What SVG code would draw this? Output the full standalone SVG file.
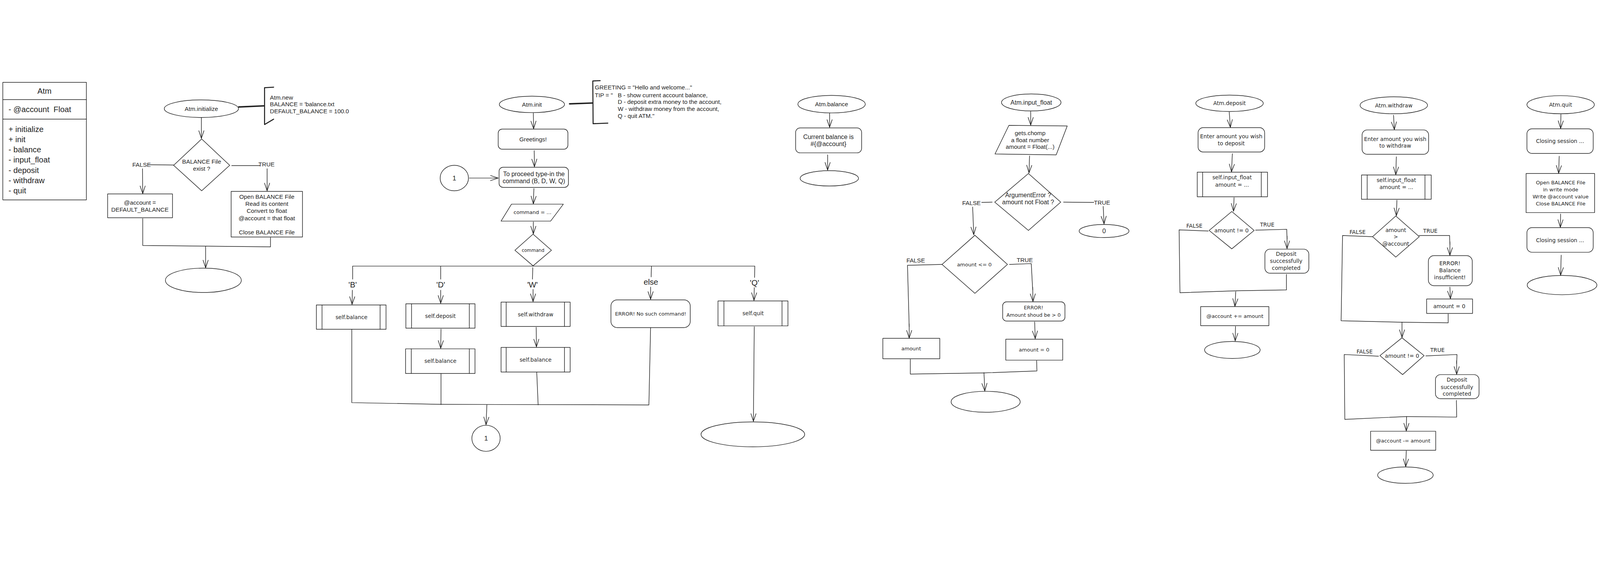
<svg xmlns="http://www.w3.org/2000/svg" width="5649" height="1444" viewBox="0 0 5649 1444">
<defs>
<marker id="ah" viewBox="-30 -12 32 24" refX="0" refY="0" markerWidth="32" markerHeight="24" markerUnits="userSpaceOnUse" orient="auto">
<path d="M-27,-9 L0,0 L-27,9" fill="none" stroke="#1e1e1e" stroke-width="2" stroke-linecap="round" stroke-linejoin="round"/>
</marker>
</defs>
<style>
svg{width:100vw;height:100vh}
.ln{fill:none;stroke:#1e1e1e;stroke-width:2;stroke-linecap:round;stroke-linejoin:round}
.ar{fill:none;stroke:#1e1e1e;stroke-width:2;stroke-linecap:round;marker-end:url(#ah)}
.thick{fill:none;stroke:#1e1e1e;stroke-width:5;stroke-linecap:round;stroke-linejoin:round}
.br{fill:none;stroke:#1e1e1e;stroke-width:3.5;stroke-linecap:round;stroke-linejoin:round}
.nd{fill:none;stroke:#1e1e1e;stroke-width:2;stroke-linejoin:round}
.v{font-family:"Liberation Sans",Arial,sans-serif;font-size:21px;fill:#1e1e1e;text-anchor:middle;dominant-baseline:central}
.d{font-family:"DejaVu Sans",Verdana,sans-serif;font-size:19px;fill:#1e1e1e;text-anchor:middle;dominant-baseline:central}
.l{text-anchor:start}
.big{font-size:28px}
</style>
<rect width="5649" height="1444" fill="#ffffff"/>

<!-- ===== Atm class ===== -->
<g id="atm-class">
<rect class="nd" x="10" y="17" width="295" height="415"/>
<line class="ln" x1="10" y1="78" x2="305" y2="78"/>
<line class="ln" x1="10" y1="147" x2="305" y2="147"/>
<text class="v big" x="157" y="48">Atm</text>
<text class="v big l" x="30" y="113" style="white-space:pre">- @account  Float</text>
<text class="v big l" x="30" y="183">+ initialize</text>
<text class="v big l" x="30" y="219">+ init</text>
<text class="v big l" x="30" y="255">- balance</text>
<text class="v big l" x="30" y="291">- input_float</text>
<text class="v big l" x="30" y="327">- deposit</text>
<text class="v big l" x="30" y="363">- withdraw</text>
<text class="v big l" x="30" y="399">- quit</text>
</g>

<!-- ===== Atm.initialize ===== -->
<g id="init-start"><ellipse class="nd" cx="711" cy="110" rx="131" ry="31"/><text class="v" x="711" y="110">Atm.initialize</text></g>
<g id="init-note">
<path class="br" d="M966,34 L934,36 L934,166 L966,147"/>
<text class="v l" x="953" y="70">Atm.new</text>
<text class="v l" x="953" y="94">BALANCE = 'balance.txt</text>
<text class="v l" x="953" y="118">DEFAULT_BALANCE = 100.0</text>
</g>
<g id="init-cond"><polygon class="nd" points="712,217 811,310 712,400 613,310"/><text class="v" x="712" y="297">BALANCE File</text><text class="v" x="712" y="322">exist ?</text></g>
<g id="init-default"><rect class="nd" x="380" y="411" width="229" height="84"/><text class="v" x="494" y="442">@account =</text><text class="v" x="494" y="466">DEFAULT_BALANCE</text></g>
<g id="init-read"><rect class="nd" x="816" y="402" width="252" height="161"/>
<text class="v" x="942" y="421">Open BALANCE File</text><text class="v" x="942" y="446">Read its content</text><text class="v" x="942" y="471">Convert to float</text><text class="v" x="942" y="496">@account = that float</text><text class="v" x="942" y="546">Close BALANCE File</text></g>
<g id="init-end"><ellipse class="nd" cx="718" cy="716" rx="134" ry="43"/></g>

<!-- ===== Atm.init ===== -->
<g id="run-start"><ellipse class="nd" cx="1878" cy="95" rx="115" ry="29"/><text class="v" x="1878" y="95">Atm.init</text></g>
<g id="run-note">
<path class="br" d="M2119,11 L2093,12 L2094,163 L2146,161"/>
<text class="v l" x="2100" y="35">GREETING = "Hello and welcome..."</text>
<text class="v l" x="2100" y="62">TIP = "<tspan x="2181">B - show current account balance,</tspan></text>
<text class="v l" x="2181" y="86">D - deposit extra money to the account,</text>
<text class="v l" x="2181" y="110">W - withdraw money from the account,</text>
<text class="v l" x="2181" y="135">Q - quit ATM."</text>
</g>
<g id="run-greet"><rect class="nd" x="1759" y="182" width="246" height="71" rx="14"/><text class="v" x="1882" y="218">Greetings!</text></g>
<g id="run-prompt"><rect class="nd" x="1762" y="317" width="245" height="71" rx="14"/><text class="v" x="1885" y="340" style="font-size:22px">To proceed type-in the</text><text class="v" x="1885" y="365" style="font-size:22px">command (B, D, W, Q)</text></g>
<g id="run-conn-in"><ellipse class="nd" cx="1604" cy="355" rx="50" ry="45"/><text class="v" x="1604" y="355" style="font-size:24px">1</text></g>
<g id="run-input"><polygon class="nd" points="1806,447 1989,447 1944,507 1769,507"/><text class="d" x="1880" y="476" style="font-size:18px">command = ...</text></g>
<g id="run-switch"><polygon class="nd" points="1882,553 1947,610 1882,665 1818,610"/><text class="d" x="1882" y="610" style="font-size:16px">command</text></g>
<g id="run-b"><rect class="nd" x="1117" y="803" width="246" height="86"/><line class="ln" x1="1137" y1="803" x2="1137" y2="889"/><line class="ln" x1="1342" y1="803" x2="1342" y2="889"/><text class="d" x="1241" y="846">self.balance</text></g>
<g id="run-d1"><rect class="nd" x="1433" y="799" width="244" height="86"/><line class="ln" x1="1453" y1="799" x2="1453" y2="885"/><line class="ln" x1="1657" y1="799" x2="1657" y2="885"/><text class="d" x="1555" y="842">self.deposit</text></g>
<g id="run-d2"><rect class="nd" x="1432" y="958" width="245" height="87"/><line class="ln" x1="1452" y1="958" x2="1452" y2="1045"/><line class="ln" x1="1657" y1="958" x2="1657" y2="1045"/><text class="d" x="1555" y="1001">self.balance</text></g>
<g id="run-w1"><rect class="nd" x="1769" y="793" width="244" height="86"/><line class="ln" x1="1787" y1="793" x2="1787" y2="879"/><line class="ln" x1="1993" y1="793" x2="1993" y2="879"/><text class="d" x="1891" y="836">self.withdraw</text></g>
<g id="run-w2"><rect class="nd" x="1769" y="953" width="244" height="87"/><line class="ln" x1="1787" y1="953" x2="1787" y2="1040"/><line class="ln" x1="1993" y1="953" x2="1993" y2="1040"/><text class="d" x="1891" y="997">self.balance</text></g>
<g id="run-err"><rect class="nd" x="2157" y="785" width="280" height="98" rx="22"/><text class="d" x="2297" y="834" style="font-size:18px">ERROR! No such command!</text></g>
<g id="run-q"><rect class="nd" x="2535" y="789" width="247" height="88"/><line class="ln" x1="2556" y1="789" x2="2556" y2="877"/><line class="ln" x1="2761" y1="789" x2="2761" y2="877"/><text class="d" x="2659" y="833">self.quit</text></g>
<g id="run-conn-out"><ellipse class="nd" cx="1716" cy="1274" rx="50" ry="46"/><text class="v" x="1716" y="1274" style="font-size:24px">1</text></g>
<g id="run-end"><ellipse class="nd" cx="2658" cy="1260" rx="183" ry="44"/></g>

<!-- ===== Atm.balance ===== -->
<g id="bal-start"><ellipse class="nd" cx="2936" cy="94" rx="119" ry="31"/><text class="v" x="2936" y="94">Atm.balance</text></g>
<g id="bal-show"><rect class="nd" x="2809" y="178" width="233" height="88" rx="16"/><text class="v" x="2925" y="210" style="font-size:22px">Current balance is</text><text class="v" x="2925" y="235" style="font-size:22px">#{@account}</text></g>
<g id="bal-end"><ellipse class="nd" cx="2928" cy="356" rx="103" ry="27"/></g>

<!-- ===== Atm.input_float ===== -->
<g id="if-start"><ellipse class="nd" cx="3641" cy="88" rx="105" ry="30"/><text class="v" x="3641" y="88" style="font-size:22px">Atm.input_float</text></g>
<g id="if-read"><polygon class="nd" points="3562,169 3768,171 3729,273 3513,270"/><text class="v" x="3637" y="196">gets.chomp</text><text class="v" x="3637" y="220">a float number</text><text class="v" x="3637" y="244">amount = Float(...)</text></g>
<g id="if-cond1"><polygon class="nd" points="3631,339 3745,440 3631,540 3512,440"/><text class="v" x="3630" y="415" style="font-size:22px">ArgumentError ?</text><text class="v" x="3630" y="440" style="font-size:22px">amount not Float ?</text></g>
<g id="if-zero"><ellipse class="nd" cx="3898" cy="542" rx="88" ry="23"/><text class="v" x="3898" y="542" style="font-size:22px">0</text></g>
<g id="if-cond2"><polygon class="nd" points="3442,557 3557,660 3442,762 3326,660"/><text class="d" x="3440" y="660" style="font-size:18px">amount &lt;= 0</text></g>
<g id="if-amount"><rect class="nd" x="3117" y="921" width="201" height="72"/><text class="d" x="3217" y="957" style="font-size:18px">amount</text></g>
<g id="if-err"><rect class="nd" x="3540" y="792" width="220" height="68" rx="14"/><text class="d" x="3649" y="813" style="font-size:17.5px">ERROR!</text><text class="d" x="3649" y="839" style="font-size:17.5px">Amount shoud be &gt; 0</text></g>
<g id="if-reset"><rect class="nd" x="3551" y="924" width="201" height="74"/><text class="d" x="3651" y="961" style="font-size:18px">amount = 0</text></g>
<g id="if-end"><ellipse class="nd" cx="3480" cy="1145" rx="122" ry="37"/></g>

<!-- ===== Atm.deposit ===== -->
<g id="dep-start"><ellipse class="nd" cx="4341" cy="91" rx="119" ry="29"/><text class="d" x="4341" y="91">Atm.deposit</text></g>
<g id="dep-prompt"><rect class="nd" x="4230" y="177" width="235" height="86" rx="18"/><text class="d" x="4347" y="207">Enter amount you wish</text><text class="d" x="4347" y="232">to deposit</text></g>
<g id="dep-input"><rect class="nd" x="4227" y="334" width="248" height="87"/><line class="ln" x1="4246" y1="334" x2="4246" y2="421"/><line class="ln" x1="4453" y1="334" x2="4453" y2="421"/><text class="d" x="4350" y="353">self.input_float</text><text class="d" x="4350" y="378">amount = ...</text></g>
<g id="dep-cond"><polygon class="nd" points="4349,473 4428,540 4349,605 4269,540"/><text class="d" x="4348" y="540">amount != 0</text></g>
<g id="dep-ok"><rect class="nd" x="4466" y="606" width="155" height="85" rx="18"/><text class="d" x="4541" y="623">Deposit</text><text class="d" x="4541" y="648">successfully</text><text class="d" x="4541" y="672">completed</text></g>
<g id="dep-add"><rect class="nd" x="4239" y="809" width="241" height="67"/><text class="d" x="4360" y="842" style="font-size:18px">@account += amount</text></g>
<g id="dep-end"><ellipse class="nd" cx="4351" cy="962" rx="98" ry="30"/></g>

<!-- ===== Atm.withdraw ===== -->
<g id="wd-start"><ellipse class="nd" cx="4921" cy="98" rx="119" ry="30"/><text class="d" x="4921" y="98">Atm.withdraw</text></g>
<g id="wd-prompt"><rect class="nd" x="4809" y="185" width="235" height="86" rx="18"/><text class="d" x="4926" y="217">Enter amount you wish</text><text class="d" x="4926" y="240">to withdraw</text></g>
<g id="wd-input"><rect class="nd" x="4807" y="344" width="246" height="86"/><line class="ln" x1="4827" y1="344" x2="4827" y2="430"/><line class="ln" x1="5031" y1="344" x2="5031" y2="430"/><text class="d" x="4930" y="362">self.input_float</text><text class="d" x="4930" y="387">amount = ...</text></g>
<g id="wd-cond1"><polygon class="nd" points="4928,489 5011,562 4928,634 4846,562"/><text class="d" x="4928" y="538">amount</text><text class="d" x="4928" y="562">&gt;</text><text class="d" x="4928" y="587">@account</text></g>
<g id="wd-err"><rect class="nd" x="5043" y="629" width="155" height="106" rx="20"/><text class="d" x="5119" y="656">ERROR!</text><text class="d" x="5119" y="681">Balance</text><text class="d" x="5119" y="706">insufficient!</text></g>
<g id="wd-reset"><rect class="nd" x="5037" y="782" width="162" height="51"/><text class="d" x="5117" y="808">amount = 0</text></g>
<g id="wd-cond2"><polygon class="nd" points="4950,919 5028,982 4952,1049 4872,982"/><text class="d" x="4950" y="982">amount != 0</text></g>
<g id="wd-ok"><rect class="nd" x="5068" y="1049" width="154" height="85" rx="18"/><text class="d" x="5144" y="1067">Deposit</text><text class="d" x="5144" y="1093">successfully</text><text class="d" x="5144" y="1117">completed</text></g>
<g id="wd-sub"><rect class="nd" x="4839" y="1249" width="230" height="67"/><text class="d" x="4954" y="1282" style="font-size:18px">@account -= amount</text></g>
<g id="wd-end"><ellipse class="nd" cx="4962" cy="1404" rx="98" ry="29"/></g>

<!-- ===== Atm.quit ===== -->
<g id="quit-start"><ellipse class="nd" cx="5510" cy="96" rx="119" ry="32"/><text class="d" x="5510" y="96">Atm.quit</text></g>
<g id="quit-msg1"><rect class="nd" x="5391" y="181" width="234" height="87" rx="18"/><text class="d" x="5508" y="224">Closing session ...</text></g>
<g id="quit-save"><rect class="nd" x="5388" y="339" width="242" height="138"/><text class="d" x="5510" y="371" style="font-size:18px">Open BALANCE File</text><text class="d" x="5510" y="396" style="font-size:18px">in write mode</text><text class="d" x="5510" y="421" style="font-size:18px">Write @account value</text><text class="d" x="5510" y="445" style="font-size:18px">Close BALANCE File</text></g>
<g id="quit-msg2"><rect class="nd" x="5391" y="530" width="234" height="87" rx="18"/><text class="d" x="5508" y="574">Closing session ...</text></g>
<g id="quit-end"><ellipse class="nd" cx="5515" cy="733" rx="123" ry="34"/></g>

<!-- ===== Connectors ===== -->
<g id="connectors">
<!-- initialize -->
<line class="thick" x1="843" y1="104" x2="932" y2="100"/>
<line class="ar" x1="711" y1="142" x2="711" y2="215"/>
<line class="ln" x1="524" y1="308" x2="613" y2="309"/>
<line class="ln" x1="818" y1="311" x2="918" y2="311"/>
<text class="v" x="500" y="308">FALSE</text>
<text class="v" x="941" y="306">TRUE</text>
<line class="ar" x1="503" y1="322" x2="504" y2="410"/>
<line class="ar" x1="943" y1="322" x2="943" y2="400"/>
<path class="ln" d="M504,498 L504,593 L955,598 L955,565"/>
<line class="ar" x1="726" y1="596" x2="726" y2="672"/>
<!-- init -->
<line class="thick" x1="2011" y1="93" x2="2092" y2="90"/>
<line class="ar" x1="1883" y1="126" x2="1884" y2="181"/>
<line class="ar" x1="1886" y1="258" x2="1887" y2="315"/>
<line class="ar" x1="1657" y1="355" x2="1759" y2="355"/>
<line class="ar" x1="1885" y1="392" x2="1883" y2="446"/>
<line class="ar" x1="1883" y1="510" x2="1883" y2="552"/>
<line class="ln" x1="1245" y1="666" x2="2665" y2="666"/>
<line class="ln" x1="1245" y1="666" x2="1245" y2="712"/>
<line class="ln" x1="1556" y1="666" x2="1556" y2="712"/>
<line class="ln" x1="1881" y1="671" x2="1880" y2="712"/>
<line class="ln" x1="2300" y1="666" x2="2299" y2="704"/>
<line class="ln" x1="2665" y1="666" x2="2664" y2="706"/>
<text class="v big" x="1245" y="731">'B'</text>
<text class="v big" x="1556" y="731">'D'</text>
<text class="v big" x="1880" y="731">'W'</text>
<text class="v big" x="2298" y="722">else</text>
<text class="v big" x="2664" y="725">'Q'</text>
<line class="ar" x1="1244" y1="751" x2="1243" y2="801"/>
<line class="ar" x1="1556" y1="751" x2="1556" y2="797"/>
<line class="ar" x1="1882" y1="748" x2="1882" y2="791"/>
<line class="ar" x1="2297" y1="740" x2="2297" y2="783"/>
<line class="ar" x1="2663" y1="742" x2="2662" y2="787"/>
<line class="ar" x1="1557" y1="888" x2="1556" y2="956"/>
<line class="ar" x1="1893" y1="882" x2="1894" y2="951"/>
<path class="ln" d="M1242,889 L1242,1148 L1556,1154 L2291,1156 L2297,883"/>
<line class="ln" x1="1557" y1="1045" x2="1557" y2="1155"/>
<line class="ln" x1="1895" y1="1040" x2="1900" y2="1156"/>
<line class="ar" x1="1719" y1="1156" x2="1716" y2="1226"/>
<line class="ar" x1="2663" y1="880" x2="2660" y2="1214"/>
<!-- balance -->
<line class="ar" x1="2929" y1="126" x2="2929" y2="176"/>
<line class="ar" x1="2922" y1="273" x2="2922" y2="327"/>
<!-- input_float -->
<line class="ar" x1="3639" y1="120" x2="3639" y2="168"/>
<line class="ar" x1="3635" y1="277" x2="3633" y2="337"/>
<line class="ln" x1="3466" y1="441" x2="3503" y2="440"/>
<line class="ln" x1="3755" y1="440" x2="3862" y2="441"/>
<text class="v" x="3430" y="443">FALSE</text>
<text class="v" x="3891" y="442">TRUE</text>
<line class="ar" x1="3895" y1="455" x2="3898" y2="517"/>
<line class="ar" x1="3434" y1="457" x2="3438" y2="555"/>
<path class="ln" d="M3326,660 L3204,663 L3210,880"/>
<line class="ar" x1="3210" y1="870" x2="3210" y2="920"/>
<path class="ln" d="M3564,660 L3641,657 L3646,750"/>
<line class="ar" x1="3646" y1="740" x2="3647" y2="791"/>
<text class="v" x="3233" y="645">FALSE</text>
<text class="v" x="3618" y="644">TRUE</text>
<line class="ar" x1="3653" y1="863" x2="3655" y2="922"/>
<path class="ln" d="M3214,995 L3214,1047 L3473,1043 L3661,1036 L3660,1000"/>
<line class="ar" x1="3474" y1="1042" x2="3477" y2="1107"/>
<!-- deposit -->
<line class="ar" x1="4340" y1="122" x2="4344" y2="176"/>
<line class="ar" x1="4351" y1="269" x2="4348" y2="333"/>
<line class="ar" x1="4357" y1="424" x2="4355" y2="472"/>
<path class="ln" d="M4266,542 L4163,538 L4166,760 L4366,753"/>
<path class="ln" d="M4542,695 L4542,750 L4366,753"/>
<path class="ln" d="M4433,539 L4543,536 L4544,570"/>
<line class="ar" x1="4544" y1="560" x2="4544" y2="604"/>
<text class="d" x="4217" y="524">FALSE</text>
<text class="d" x="4474" y="519">TRUE</text>
<line class="ar" x1="4363" y1="756" x2="4360" y2="808"/>
<line class="ar" x1="4362" y1="879" x2="4361" y2="930"/>
<!-- withdraw -->
<line class="ar" x1="4920" y1="133" x2="4923" y2="184"/>
<line class="ar" x1="4930" y1="280" x2="4928" y2="343"/>
<line class="ar" x1="4932" y1="433" x2="4930" y2="488"/>
<path class="ln" d="M4845,562 L4740,558 L4735,859 L4950,864"/>
<path class="ln" d="M5113,835 L5113,866 L4950,864"/>
<path class="ln" d="M5010,558 L5118,558 L5119,590"/>
<line class="ar" x1="5119" y1="580" x2="5119" y2="628"/>
<text class="d" x="4793" y="546">FALSE</text>
<text class="d" x="5050" y="541">TRUE</text>
<line class="ar" x1="5119" y1="740" x2="5121" y2="781"/>
<line class="ar" x1="4950" y1="864" x2="4950" y2="918"/>
<path class="ln" d="M4867,984 L4746,978 L4748,1207 L4966,1197"/>
<path class="ln" d="M5142,1140 L5143,1199 L4966,1197"/>
<path class="ln" d="M5034,983 L5144,978 L5143,1010"/>
<line class="ar" x1="5143" y1="1000" x2="5143" y2="1048"/>
<text class="d" x="4818" y="968">FALSE</text>
<text class="d" x="5075" y="962">TRUE</text>
<line class="ar" x1="4966" y1="1198" x2="4965" y2="1248"/>
<line class="ar" x1="4965" y1="1318" x2="4963" y2="1374"/>
<!-- quit -->
<line class="ar" x1="5511" y1="130" x2="5510" y2="180"/>
<line class="ar" x1="5505" y1="278" x2="5503" y2="338"/>
<line class="ar" x1="5510" y1="482" x2="5509" y2="529"/>
<line class="ar" x1="5512" y1="627" x2="5510" y2="698"/>
</g>
</svg>
